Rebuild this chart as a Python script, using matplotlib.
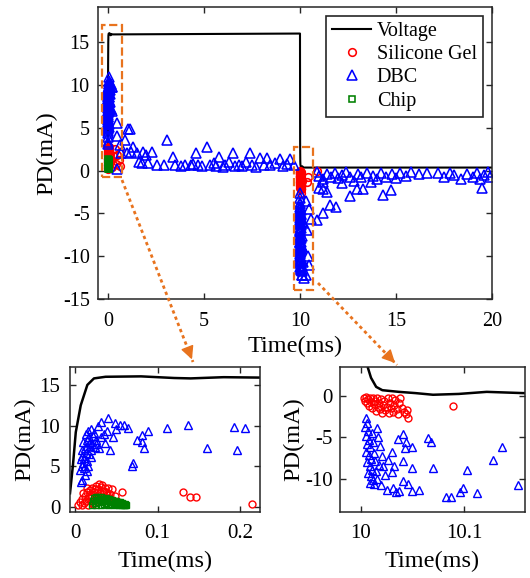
import numpy as np
import matplotlib
matplotlib.use('Agg')
import matplotlib.pyplot as plt
from matplotlib.patches import Rectangle

plt.rcParams['font.family'] = 'Liberation Serif'
plt.rcParams['axes.unicode_minus'] = False

# --- voltage waveform (rising edge, falling edge) ---
rise_t = [-0.006, -0.0024, 0.001, 0.007, 0.015, 0.023, 0.037, 0.08, 0.12, 0.14, 0.18, 0.224]
rise_v = [1.7, 5.2, 9.2, 12.5, 15.0, 15.8, 16.0, 16.05, 15.85, 15.8, 15.95, 15.9]
fall_t = [10.0, 10.005, 10.007, 10.010, 10.015, 10.021, 10.037, 10.053, 10.07, 10.095, 10.122, 10.157, 20.0]
fall_v = [16.0, 7.0, 3.4, 2.2, 1.1, 0.7, 0.5, 0.35, 0.15, 0.25, 0.5, 0.35, 0.35]

# --- PD at the rising edge (0 - 0.22 ms) ---
dbc_on_t = [0.0085, 0.012, 0.006, 0.008, 0.010, 0.007, 0.009, 0.011, 0.013, 0.008,
            0.012, 0.015, 0.010, 0.014, 0.017, 0.013, 0.016, 0.019, 0.011, 0.015,
            0.017, 0.019, 0.021, 0.018, 0.022, 0.024, 0.020, 0.023, 0.026, 0.029,
            0.031, 0.032, 0.028, 0.035, 0.039, 0.040, 0.043, 0.046, 0.048, 0.054,
            0.059, 0.064, 0.069, 0.075, 0.081, 0.083, 0.081, 0.089, 0.111, 0.137,
            0.160, 0.192, 0.206, 0.196, 0.016, 0.014, 0.018, 0.025, 0.036, 0.050,
            0.0073, 0.070]
dbc_on_v = [3.3, 3.9, 4.6, 5.0, 5.4, 5.9, 6.3, 6.0, 6.7, 7.0,
            7.3, 7.5, 8.0, 8.3, 8.6, 9.0, 9.4, 9.6, 4.8, 5.7,
            6.5, 7.0, 7.8, 8.0, 8.7, 7.4, 6.2, 9.1, 7.7, 7.2,
            8.6, 10.4, 9.9, 9.0, 9.3, 10.9, 7.0, 8.6, 10.3, 10.1,
            10.1, 9.7, 5.1, 8.2, 8.0, 7.2, 8.9, 9.4, 9.7, 10.1,
            7.2, 9.8, 9.7, 7.0, 5.1, 4.4, 7.5, 8.3, 7.9, 9.6,
            3.1, 5.4]

gel_on_t = [0.004, 0.006, 0.008, 0.009, 0.011, 0.012, 0.013, 0.015, 0.016, 0.017,
            0.018, 0.019, 0.020, 0.021, 0.022, 0.023, 0.024, 0.025, 0.026, 0.027,
            0.028, 0.029, 0.030, 0.031, 0.032, 0.033, 0.034, 0.035, 0.036, 0.037,
            0.038, 0.040, 0.041, 0.043, 0.045, 0.047, 0.049, 0.052, 0.057, 0.131,
            0.139, 0.147, 0.214, 0.010, 0.014, 0.027, 0.019, 0.024, 0.031, 0.035,
            0.039, 0.044]
gel_on_v = [0.3, 0.6, 0.2, 1.0, 0.5, 1.4, 0.8, 1.8, 0.3, 1.1,
            2.1, 0.7, 1.5, 2.4, 0.4, 1.9, 1.0, 2.6, 1.4, 0.6,
            2.2, 2.8, 1.7, 2.5, 0.9, 2.7, 2.0, 1.3, 2.4, 0.5,
            1.8, 2.3, 1.1, 1.6, 2.2, 0.8, 1.4, 0.6, 1.8, 1.9,
            1.2, 1.2, 0.4, 1.7, 2.3, 1.2, 1.2, 2.2, 1.1, 2.0,
            1.5, 1.0]

chip_t = [0.021, 0.022, 0.023, 0.024, 0.025, 0.026, 0.027, 0.028, 0.029, 0.030,
          0.031, 0.032, 0.033, 0.034, 0.035, 0.036, 0.037, 0.038, 0.039, 0.040,
          0.041, 0.042, 0.043, 0.044, 0.045, 0.046, 0.047, 0.048, 0.049, 0.050,
          0.051, 0.052, 0.053, 0.054, 0.055, 0.056, 0.057, 0.058, 0.059, 0.060,
          0.061, 0.062]
chip_v = [0.3, 0.8, 1.1, 0.5, 1.3, 0.2, 0.9, 1.2, 0.6, 1.0,
          0.3, 1.2, 0.7, 1.0, 0.4, 0.9, 1.1, 0.5, 0.8, 0.3,
          1.0, 0.6, 0.8, 0.4, 0.9, 0.6, 0.3, 0.7, 0.5, 0.8,
          0.4, 0.6, 0.3, 0.5, 0.6, 0.3, 0.5, 0.4, 0.2, 0.4,
          0.3, 0.2]

# --- PD at the falling edge (10 - 10.16 ms) ---
dbc_off_t = [10.005, 10.006, 10.004, 10.007, 10.005, 10.008, 10.006, 10.009, 10.005, 10.008,
             10.010, 10.006, 10.009, 10.011, 10.007, 10.010, 10.012, 10.009, 10.013, 10.011,
             10.012, 10.013, 10.014, 10.015, 10.016, 10.017, 10.018, 10.019, 10.020, 10.016,
             10.021, 10.022, 10.024, 10.026, 10.030, 10.030, 10.031, 10.032, 10.036, 10.037,
             10.041, 10.041, 10.041, 10.043, 10.044, 10.046, 10.050, 10.050, 10.050, 10.056,
             10.065, 10.068, 10.070, 10.083, 10.087, 10.096, 10.099, 10.103, 10.113, 10.128,
             10.137, 10.152, 10.025, 10.034]
dbc_off_v = [-2.6, -3.2, -3.8, -4.2, -4.8, -5.3, -5.8, -6.2, -6.7, -7.1,
             -7.6, -8.0, -8.4, -8.9, -9.3, -9.7, -10.1, -10.5, -10.6, -4.5,
             -5.5, -6.9, -7.9, -9.0, -10.0, -5.0, -8.3, -6.0, -10.8, -3.9,
             -7.2, -8.5, -9.5, -7.7, -6.7, -9.2, -11.1, -8.4, -5.2, -11.5,
             -4.6, -7.9, -10.3, -6.3, -5.5, -10.6, -6.1, -8.7, -11.5, -11.3,
             -5.1, -5.6, -8.7, -12.2, -12.2, -11.6, -11.1, -8.9, -11.7, -7.7,
             -6.1, -10.7, -11.3, -11.6]

gel_off_t = [10.003, 10.004, 10.005, 10.006, 10.007, 10.008, 10.009, 10.010, 10.011, 10.012,
             10.013, 10.014, 10.015, 10.016, 10.017, 10.018, 10.019, 10.020, 10.021, 10.022,
             10.023, 10.024, 10.025, 10.026, 10.027, 10.028, 10.029, 10.030, 10.031, 10.032,
             10.033, 10.035, 10.036, 10.037, 10.038, 10.040, 10.042, 10.044, 10.046, 10.045,
             10.089]
gel_off_v = [-0.2, -0.6, -0.1, -0.9, -0.4, -1.2, -0.2, -0.7, -1.5, -0.3,
             -1.0, -0.6, -1.8, -0.2, -1.3, -0.8, -1.6, -0.4, -2.0, -1.1,
             -0.6, -1.7, -1.3, -0.3, -2.1, -0.9, -1.5, -0.2, -1.9, -1.1,
             -0.5, -1.6, -2.2, -0.8, -0.3, -1.4, -1.9, -2.2, -2.6, -1.7,
             -1.2]

# --- PD outside the two zoomed windows ---
dbc_mid_t = [0.47, 1.04, 1.15, 0.47, 0.89, 1.3, 0.99, 1.2, 1.5, 1.8, 2.3, 3.07, 1.77, 2.1,
             2.55, 2.9, 3.4, 3.5, 3.8, 4.0, 4.3, 4.6, 5.15, 4.7, 4.9, 5.3, 5.5, 5.8, 6.0,
             6.1, 6.3, 6.5, 6.8, 7.0, 7.2, 7.4, 7.5, 7.7, 7.9, 8.1, 8.3, 8.45, 8.7, 8.95,
             9.1, 9.5, 9.3, 9.7, 1.6, 2.0, 0.6, 0.7, 5.6, 4.45, 6.6, 0.47]
dbc_mid_v = [5.6, 4.8, 4.8, 4.0, 3.6, 2.8, 2.1, 2.2, 2.0, 2.2, 2.2, 3.6, 0.9, 0.9,
             0.7, 0.7, 1.6, 0.7, 0.5, 0.7, 0.6, 2.1, 2.7, 0.7, 0.5, 0.7, 0.9, 1.6, 0.4,
             0.7, 1.0, 2.1, 0.7, 0.5, 1.0, 2.1, 0.7, 0.4, 1.5, 0.7, 1.5, 0.6, 0.9, 1.3,
             0.5, 1.3, 0.8, 0.6, 1.0, 1.8, 3.0, 2.0, 0.5, 0.8, 0.5, 0.2]

dbc_late_t = [10.9, 11.0, 11.2, 11.4, 11.6, 11.8, 12.0, 12.2, 12.4, 12.6, 12.8, 13.0, 13.2,
              13.5, 13.8, 14.0, 14.2, 14.5, 14.8, 15.0, 15.2, 15.5, 15.8, 16.2, 16.6, 17.2,
              17.5, 17.8, 18.0, 18.4, 18.7, 19.0, 19.2, 19.4, 19.6, 19.8, 19.9, 10.97, 11.2,
              11.2, 11.4, 12.6, 12.95, 13.3, 14.3, 14.75, 19.5, 11.56, 11.85, 11.2, 10.9,
              12.2, 13.7, 10.3, 10.45, 10.55, 10.35, 10.4, 10.45, 10.3, 10.2]
dbc_late_v = [-0.2, -0.6, -1.0, -0.4, -0.8, -0.3, -0.9, -0.5, -0.2, -0.7, -1.2, -0.4, -0.8,
              -0.3, -0.6, -1.0, -0.3, -0.7, -0.4, -0.9, -0.3, -0.6, -0.2, -0.4, -0.3, -0.3,
              -0.7, -0.3, -0.5, -1.0, -0.4, -0.7, -0.3, -1.0, -0.5, -0.2, -0.8, -2.0, -1.3,
              -2.2, -2.5, -3.0, -2.2, -2.2, -2.8, -2.3, -2.0, -4.0, -4.2, -4.9, -5.8,
              -1.5, -1.3, -3.5, -4.5, -5.7, -7.0, -10.0, -11.0, -12.2, -12.5]

gel_extra_t = [0.35, 0.45, 0.55, 0.65, 0.4, 0.6, 10.4, 10.9, 10.35]
gel_extra_v = [2.5, 1.8, 1.2, 2.0, 0.8, 0.5, -0.8, -0.1, -1.3]

volt_t = rise_t + fall_t
volt_v = rise_v + fall_v
dbc_t = dbc_on_t + dbc_mid_t + dbc_off_t + dbc_late_t
dbc_v = dbc_on_v + dbc_mid_v + dbc_off_v + dbc_late_v
gel_t = gel_on_t + gel_off_t + gel_extra_t
gel_v = gel_on_v + gel_off_v + gel_extra_v

orange = '#E8731E'
W, H = 530, 578
fig = plt.figure(figsize=(W / 100, H / 100), dpi=100)


def style(ax, fs, xpad, ypad):
    ax.tick_params(direction='in', top=True, right=True, length=4, width=1,
                   labelsize=fs, colors='#262626', labelcolor='black')
    ax.tick_params(axis='x', pad=xpad)
    ax.tick_params(axis='y', pad=ypad)
    for s in ax.spines.values():
        s.set_linewidth(1.1)
        s.set_color('#262626')


def draw(ax, ms_tri, ms_o, ms_sq, lw, mew):
    ax.plot(volt_t, volt_v, color='k', lw=lw, label='Voltage')
    ax.plot(gel_t, gel_v, 'o', mfc='none', mec='#ff0000', ms=ms_o, mew=mew, label='Silicone Gel')
    ax.plot(dbc_t, dbc_v, '^', mfc='none', mec='#0000ff', ms=ms_tri, mew=mew, label='DBC')
    ax.plot(chip_t, chip_v, 's', mfc='none', mec='#008000', ms=ms_sq, mew=mew, label='Chip')


# main view
ax = fig.add_axes([98 / W, 1 - 299 / H, 394 / W, 292 / H])
draw(ax, 7, 5.5, 5, 1.5, 1.15)
ax.set_xlim(-0.52, 20)
ax.set_ylim(-15, 19.1)
ax.set_xticks([0, 5, 10, 15, 20])
ax.set_yticks([-15, -10, -5, 0, 5, 10, 15])
ax.set_xlabel('Time(ms)', fontsize=17.5, labelpad=4)
ax.set_ylabel('PD(mA)', fontsize=17.5, labelpad=4)
style(ax, 14.5, 9, 6)
leg = ax.legend(loc='upper right', fontsize=14.5, frameon=True, fancybox=False, edgecolor='#262626',
                framealpha=1, handlelength=1.9, handletextpad=0.3, labelspacing=0.2,
                borderpad=0.3, borderaxespad=0, bbox_to_anchor=(0.977, 0.969))
leg.get_frame().set_linewidth(1.2)
ax.add_patch(Rectangle((-0.31, -0.8), 1.04, 17.8, fill=False, ls='--', lw=1.6, ec=orange, zorder=5))
ax.add_patch(Rectangle((9.69, -14.0), 0.99, 16.8, fill=False, ls='--', lw=1.6, ec=orange, zorder=5))

# zoom on the rising edge
ax1 = fig.add_axes([70 / W, 1 - 512 / H, 190 / W, 145 / H])
draw(ax1, 5.5, 5, 4.5, 1.8, 1.0)
ax1.set_xlim(-0.006, 0.224)
ax1.set_ylim(-0.6, 17.2)
ax1.set_xticks([0, 0.1, 0.2])
ax1.set_xticklabels(['0', '0.1', '0.2'])
ax1.set_yticks([0, 5, 10, 15])
ax1.set_xlabel('Time(ms)', fontsize=17.5, labelpad=5)
ax1.set_ylabel('PD(mA)', fontsize=17.5, labelpad=3)
style(ax1, 15, 9, 7)

# zoom on the falling edge
ax2 = fig.add_axes([340 / W, 1 - 512 / H, 185 / W, 145 / H])
draw(ax2, 5.5, 5, 4.5, 1.8, 1.0)
ax2.set_xlim(9.98, 10.159)
ax2.set_ylim(-14, 3.5)
ax2.set_xticks([10, 10.1])
ax2.set_xticklabels(['10', '10.1'])
ax2.set_yticks([-10, -5, 0])
ax2.set_xlabel('Time(ms)', fontsize=17.5, labelpad=5)
ax2.set_ylabel('PD(mA)', fontsize=17.5, labelpad=1)
style(ax2, 15, 9, 5)

# dotted arrows linking the boxes to the zoom panels
for (x0, y0), (x1, y1) in [((122, 180), (193, 362)), ((318, 283), (397, 365))]:
    fig.add_artist(plt.Line2D([x0 / W, x1 / W], [1 - y0 / H, 1 - y1 / H], color=orange,
                              lw=2, ls=(0, (1.2, 1.2)), transform=fig.transFigure))
    ax.annotate('', xy=(x1 / W, 1 - y1 / H),
                xytext=(x1 / W - (x1 - x0) / W * 0.08, 1 - (y1 - (y1 - y0) * 0.08) / H),
                xycoords='figure fraction', textcoords='figure fraction',
                arrowprops=dict(arrowstyle='-|>', color=orange, lw=1, mutation_scale=20))

fig.savefig('out.png', dpi=100)
